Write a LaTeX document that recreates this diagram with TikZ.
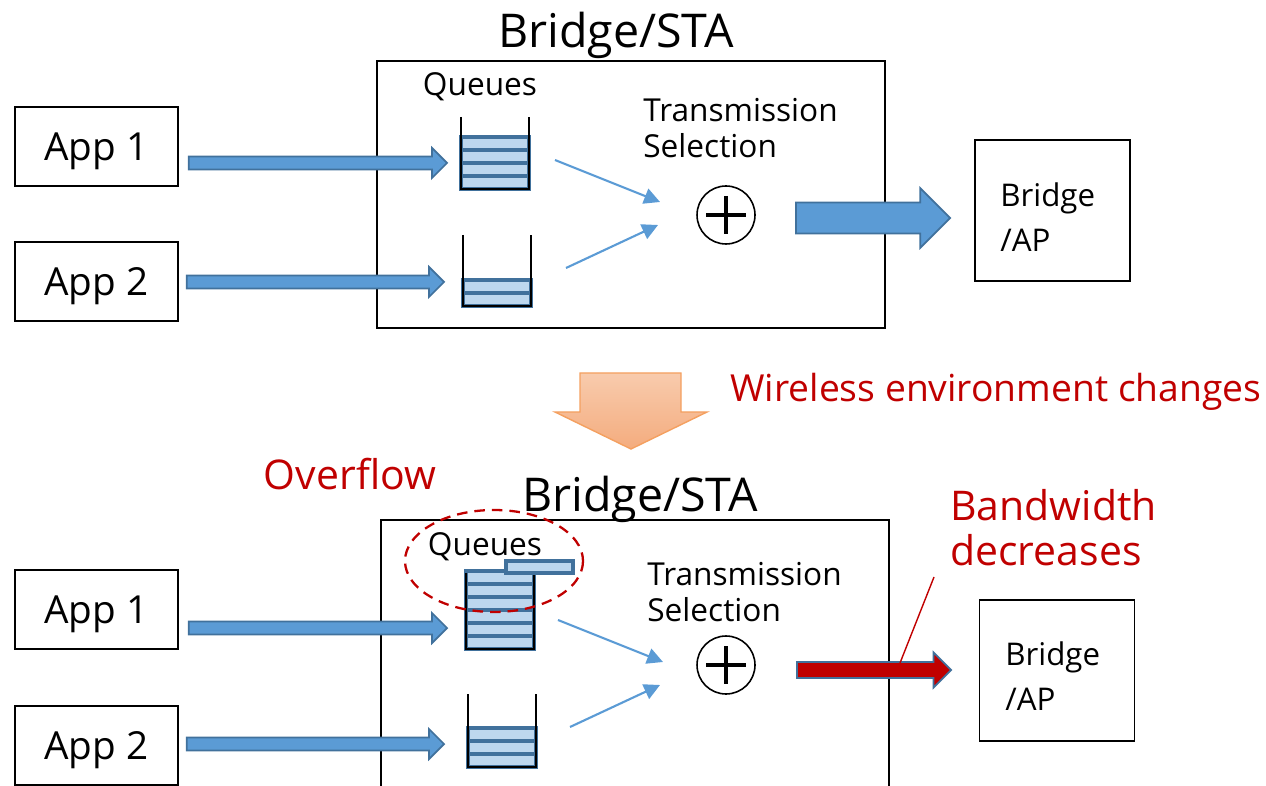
\documentclass[tikz,border=0pt]{standalone}
\usepackage{fontspec}
\setmainfont{Open Sans}
\usetikzlibrary{arrows.meta,calc}
\definecolor{flowblue}{HTML}{5B9BD5}
\definecolor{flowedge}{HTML}{41719C}
\definecolor{cellfill}{HTML}{BDD7EE}
\definecolor{alertred}{HTML}{C00000}
\definecolor{peachtop}{HTML}{F8CBAD}
\definecolor{peachbot}{HTML}{F4AC7E}
\definecolor{peachedge}{HTML}{F4A060}
%% fat horizontal arrow: style, from, to, shaft half, head half, head length
\newcommand{\fatarrow}[6]{%
  \draw[#1] let \p1=(#2), \p2=(#3) in
    (\x1,\y1+#4) -- (\x2-#6,\y1+#4) -- (\x2-#6,\y1+#5) -- (\x2,\y1)
    -- (\x2-#6,\y1-#5) -- (\x2-#6,\y1-#4) -- (\x1,\y1-#4) -- cycle;}
\begin{document}
\begin{tikzpicture}
[x=0.02cm,y=-0.02cm,
  appbox/.style={draw,line width=1pt,minimum width=3.26cm,minimum height=1.58cm,
    inner sep=0pt,text depth=0pt,font=\fontsize{22}{26}\selectfont},%
  apbox/.style={draw,line width=1pt,minimum width=3.1cm,minimum height=2.82cm},%
  title/.style={inner sep=0pt,font=\fontsize{26.5}{30}\selectfont},%
  small/.style={inner sep=0pt,align=left,font=\fontsize{18}{20.5}\selectfont},%
  aptext/.style={inner sep=0pt,align=left,font=\fontsize{17.8}{25.5}\selectfont},%
  redtext/.style={inner sep=0pt,align=left,text=alertred,font=\fontsize{23.3}{25.5}\selectfont},%
  cell/.style={fill=cellfill,draw=flowedge,line width=1.9pt},%
  wall/.style={draw=black,line width=0.8pt},%
  feed/.style={fill=flowblue,draw=flowedge,line width=1pt},%
  squeezed/.style={fill=alertred,draw=flowedge,line width=1pt},%
  pick/.style={draw=flowblue,line width=1.2pt,-{Triangle[length=9pt,width=9pt]}},%
  selector/.style={draw,circle,line width=0.9pt,minimum size=1.16cm,inner sep=0pt},%
  plus/.style={line width=1.8pt}]
\useasboundingbox (0,0) rectangle (1266,786);
\clip (0,0) rectangle (1266,786);

%% top: before the change
\node (app1) at (96.5,146.5) [appbox] {App 1};
\node (app2) at (96.5,281.5) [appbox] {App 2};
\draw[line width=1pt] (377,61) rectangle (885,328);
\node (sta1) at (616,35) [title] {Bridge/STA};
\node (qlbl1) at (480,87) [small] {Queues};
\node (txsel1) at (643,128) [small,anchor=west] {Transmission\\Selection};
\node (sel1) at (726,215) [selector] {};
\draw[plus] ($(sel1)+(-20,0)$) -- ($(sel1)+(20,0)$) ($(sel1)+(0,-19)$) -- ($(sel1)+(0,19)$);
\node (ap1) at (1052.5,210.5) [apbox] {};
\node (aplbl1) at (1000,217) [aptext,anchor=west] {Bridge\\/AP};

%% bottom: after the change
\node (app3) at (96.5,609.5) [appbox] {App 1};
\node (app4) at (96.5,745.5) [appbox] {App 2};
\draw[line width=1pt] (381,520) rectangle (889,800);
\node (sta2) at (640,499) [title] {Bridge/STA};
\node (qlbl2) at (485,547) [small] {Queues};
\node (txsel2) at (647,592) [small,anchor=west] {Transmission\\Selection};
\node (sel2) at (726,665) [selector] {};
\draw[plus] ($(sel2)+(-20,0)$) -- ($(sel2)+(20,0)$) ($(sel2)+(0,-19)$) -- ($(sel2)+(0,19)$);
\node (ap2) at (1057,670.5) [apbox] {};
\node (aplbl2) at (1005,676) [aptext,anchor=west] {Bridge\\/AP};

%% queues: left x / bottom y / cells / wall top
\foreach \qx/\qy/\qn/\qtop in {461/189/4/117, 463/306/2/235, 466/649/6/573, 468/767/3/694} {
  \foreach \k in {1,...,\qn} {
    \draw[cell] (\qx,\qy-\k*13+13) rectangle (\qx+68,\qy-\k*13);
  }
  \draw[wall] (\qx,\qtop) -- (\qx,\qy) -- (\qx+68,\qy) -- (\qx+68,\qtop);
}
\draw[cell] (506,561) rectangle (573,573);
\draw[alertred,dashed,line width=1.3pt,dash pattern=on 6pt off 4pt] (494,561) ellipse [x radius=89,y radius=51];

%% feed arrows
\coordinate (q1in) at (447,163);
\coordinate (q2in) at (444,282);
\coordinate (q3in) at (447,628);
\coordinate (q4in) at (444,744);
\fatarrow{feed}{$(app1.east |- q1in)+(10,0)$}{q1in}{3.7pt}{8.5pt}{8.5pt}
\fatarrow{feed}{$(app2.east |- q2in)+(8,0)$}{q2in}{3.7pt}{8.5pt}{8.5pt}
\fatarrow{feed}{$(app3.east |- q3in)+(10,0)$}{q3in}{3.7pt}{8.5pt}{8.5pt}
\fatarrow{feed}{$(app4.east |- q4in)+(8,0)$}{q4in}{3.7pt}{8.5pt}{8.5pt}

%% queues to selection
\draw[pick] (555,160) -- ($(sel1)+(-66,-13)$);
\draw[pick] (566,268) -- ($(sel1)+(-68,10)$);
\draw[pick] (558,620) -- ($(sel2)+(-63,-3)$);
\draw[pick] (570,727) -- ($(sel2)+(-66,20)$);

%% output arrows
\coordinate (out1) at (950,218);
\coordinate (out2) at (951,670);
\fatarrow{feed}{$(sel1 |- out1)+(70,0)$}{out1}{8.8pt}{17pt}{17pt}
\fatarrow{squeezed}{$(sel2 |- out2)+(71,0)$}{out2}{4.5pt}{10pt}{10pt}

%% change marker
\draw[peachedge,line width=0.8pt,top color=peachtop,bottom color=peachbot]
  (580,373) -- (681,373) -- (681,412) -- (707,412) -- (631,449)
  -- (555,412) -- (580,412) -- cycle;
\node (change) at (730,392) [anchor=west,inner sep=0pt,text=alertred,
  font=\fontsize{21.2}{25}\selectfont] {Wireless environment changes};
\node (overflow) at (350,474) [redtext] {Overflow};
\node (bw) at (950,528) [redtext,anchor=west] {Bandwidth\\decreases};
\coordinate (bwtip) at (900,663);
\draw[alertred,line width=0.8pt] (934,577) -- (bwtip);
\end{tikzpicture}
\end{document}
